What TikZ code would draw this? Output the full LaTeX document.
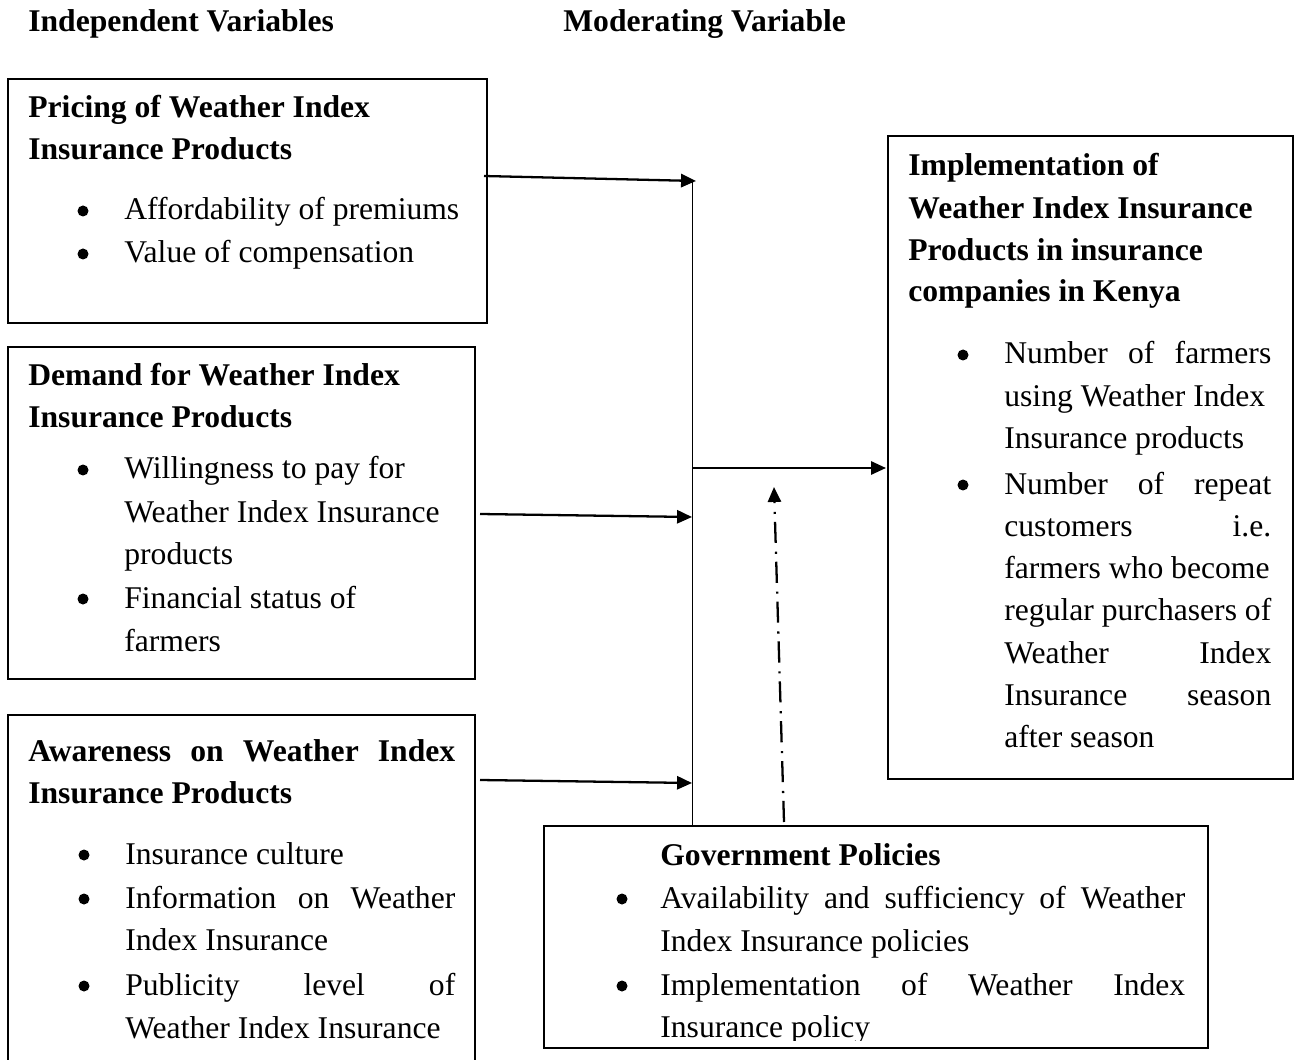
\documentclass[tikz,border=0pt]{standalone}
\usepackage{fontspec}
\setmainfont{Liberation Serif}
\usetikzlibrary{arrows.meta}
\begin{document}
\begin{tikzpicture}[x=0.02cm,y=-0.02cm,
  font=\fontsize{18}{24}\selectfont,
  box/.style={draw, line width=1.1pt, anchor=north west, inner sep=0pt},
  ln/.style={anchor=base west, inner sep=0pt},
  hd/.style={anchor=base west, inner sep=0pt, font=\fontsize{18}{24}\selectfont\bfseries},
  bul/.style={circle, fill=black, inner sep=0pt, minimum size=0.22cm},
  arr/.style={line width=1.3pt, -{Triangle[length=8.5pt,width=7.5pt]}},
  vline/.style={line width=0.5pt},
  dd/.style={line width=1.3pt, dash pattern=on 12pt off 4.5pt on 1.2pt off 5pt, -{Triangle[length=8.5pt,width=7.5pt]}}
]
\useasboundingbox (0,0) rectangle (1294,1060);
\clip (0,0) rectangle (1294,1060);
\fill[white] (0,0) rectangle (1294,1060);

% headers
\node[hd] (h1) at (28,32) {Independent Variables};
\node[hd] (h2) at (563,32) {Moderating Variable};

% boxes
\node[box, minimum width=9.58cm, minimum height=4.88cm] (b1) at (7,78) {};
\node[box, minimum width=9.34cm, minimum height=6.64cm] (b2) at (7,346) {};
\node[box, minimum width=9.34cm, minimum height=7.8cm] (b3) at (7,714) {};
\node[box, minimum width=8.1cm, minimum height=12.86cm] (b4) at (887,135) {};

% box 1
\node[hd] (p1) at (28,118) {Pricing of Weather Index};
\node[hd] (p2) at (28,160) {Insurance Products};
\node[bul] (pb1) at (83,211) {};
\node[ln] (p3) at (124,220) {Affordability of premiums};
\node[bul] (pb2) at (83,254) {};
\node[ln] (p4) at (124,263) {Value of compensation};

% box 2
\node[hd] (d1) at (28,386) {Demand for Weather Index};
\node[hd] (d2) at (28,428) {Insurance Products};
\node[bul] (db1) at (83,470) {};
\node[ln] (d3) at (124,479) {Willingness to pay for};
\node[ln] (d4) at (124,522) {Weather Index Insurance};
\node[ln] (d5) at (124,564) {products};
\node[bul] (db2) at (83,599) {};
\node[ln] (d6) at (124,608) {Financial status of};
\node[ln] (d7) at (124,651) {farmers};

% box 3
\node[hd] (a1) at (28,761) {\makebox[8.54cm][s]{Awareness on Weather Index}};
\node[hd] (a2) at (28,803) {Insurance Products};
\node[bul] (ab1) at (84,855) {};
\node[ln] (a3) at (125,864) {Insurance culture};
\node[bul] (ab2) at (84,899) {};
\node[ln] (a4) at (125,908) {\makebox[6.6cm][s]{Information on Weather}};
\node[ln] (a5) at (125,950) {Index Insurance};
\node[bul] (ab3) at (84,986) {};
\node[ln] (a6) at (125,995) {\makebox[6.6cm][s]{Publicity level of}};
\node[ln] (a7) at (125,1038) {Weather Index Insurance};

% right box
\node[hd] (r1) at (908,176) {Implementation of};
\node[hd] (r2) at (908,219) {Weather Index Insurance};
\node[hd] (r3) at (908,261) {Products in insurance};
\node[hd] (r4) at (908,302) {companies in Kenya};
\node[bul] (rb1) at (963,355) {};
\node[ln] (r5) at (1004,364) {\makebox[5.34cm][s]{Number of farmers}};
\node[ln] (r6) at (1004,407) {using Weather Index};
\node[ln] (r7) at (1004,449) {Insurance products};
\node[bul] (rb2) at (963,485) {};
\node[ln] (r8) at (1004,494) {\makebox[5.34cm][s]{Number of repeat}};
\node[ln] (r9) at (1004,536) {\makebox[5.34cm][s]{customers i.e.}};
\node[ln] (r10) at (1004,578) {farmers who become};
\node[ln] (r11) at (1004,620) {regular purchasers of};
\node[ln] (r12) at (1004,663) {\makebox[5.34cm][s]{Weather Index}};
\node[ln] (r13) at (1004,705) {\makebox[5.34cm][s]{Insurance season}};
\node[ln] (r14) at (1004,747) {after season};

% government box
\node[box, minimum width=13.28cm, minimum height=4.44cm, fill=white] (g) at (543,825) {};
\begin{scope}
\clip (543,825) rectangle (1207,1040);
\node[hd] (g1) at (660,865) {Government Policies};
\node[bul] (gb1) at (622,899) {};
\node[ln] (g2) at (660,908) {\makebox[10.5cm][s]{Availability and sufficiency of Weather}};
\node[ln] (g3) at (660,951) {Index Insurance policies};
\node[bul] (gb2) at (622,986) {};
\node[ln] (g4) at (660,995) {\makebox[10.5cm][s]{Implementation of Weather Index}};
\node[ln] (g5) at (660,1037) {Insurance policy};
\end{scope}
\node[box, minimum width=13.28cm, minimum height=4.44cm] (gframe) at (543,825) {};

% connectors
\coordinate (v0) at (692,180);
\coordinate (v1) at (692,825);
\draw[vline] (v0) -- (v1);

\coordinate (s1) at (484,176); \coordinate (t1) at (696,181);
\coordinate (s2) at (480,514); \coordinate (t2) at (692,517);
\coordinate (s3) at (480,780); \coordinate (t3) at (692,783);
\coordinate (s4) at (692,468); \coordinate (t4) at (886,468);
\coordinate (q0) at (784,822); \coordinate (q1) at (774,487);

\draw[arr] (s1) -- (t1);
\draw[arr] (s2) -- (t2);
\draw[arr] (s3) -- (t3);
\draw[arr] (s4) -- (t4);
\draw[dd] (q0) -- (q1);
\end{tikzpicture}
\end{document}
